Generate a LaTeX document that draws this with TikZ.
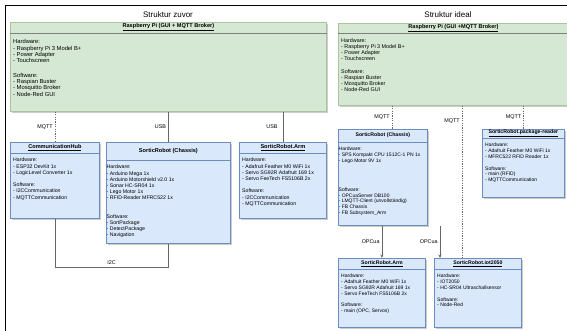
\documentclass[tikz,border=0pt]{standalone}
\usepackage{fontspec}
\setmainfont{Liberation Sans}
\usetikzlibrary{shadows,arrows.meta}

\definecolor{boxgreen}{HTML}{D5E8D4}
\definecolor{linegreen}{HTML}{A9C49F}
\definecolor{boxblue}{HTML}{DAE8FC}
\definecolor{lineblue}{HTML}{6C8EBF}
\definecolor{wiregray}{HTML}{666666}

\tikzset{
	greenbox/.style={draw=linegreen, fill=boxgreen, line width=0.8pt, inner sep=0pt, drop shadow={shadow xshift=1.5pt, shadow yshift=-1.5pt, fill=black, opacity=0.2}},
	greenbox divider/.style={draw=gray, line width=0.8pt},
	bluebox/.style={draw=lineblue, fill=boxblue, line width=0.8pt, inner sep=0pt, drop shadow={shadow xshift=1.5pt, shadow yshift=-1.5pt, fill=black, opacity=0.2}},
	bluebox divider/.style={draw=lineblue, line width=0.8pt},
	headtext/.style={inner sep=0pt, font=\bfseries\fontsize{5.6}{6}\selectfont},
	bodytext/.style={align=left, inner sep=0pt, font=\fontsize{5.2}{6.2}\selectfont},
	wirelabel/.style={inner sep=2pt, font=\fontsize{5.4}{6}\selectfont},
	paneltitle/.style={font=\fontsize{8}{9}\selectfont},
	mqttwire/.style={draw=wiregray, line width=0.6pt, dash pattern=on 1.2pt off 1.2pt},
	usbwire/.style={draw=wiregray, line width=0.8pt},
	opcwire/.style={draw=wiregray, line width=0.8pt, -{Stealth[length=3.5pt, width=3pt]}},
}

% style, name, x, y, width, height, header height, title, body
\newcommand{\classbox}[9]{
	\node[#1, minimum width=#5pt, minimum height=#6pt, anchor=north west] (#2) at (#3,#4) {};
	\draw[#1 divider] ([yshift=-#7pt]#2.north west) -- ([yshift=-#7pt]#2.north east);
	\node[headtext] (#2-title) at ([yshift=-#7pt/2]#2.north) {#8};
	\node[bodytext, anchor=north west] (#2-body) at ([xshift=3pt, yshift=-#7pt-5pt]#2.north west) {#9};
}

\begin{document}
\begin{tikzpicture}[x=1pt, y=-1pt]
	\useasboundingbox (0,0) rectangle (567,331);
	\clip (0,0) rectangle (567,331);

	% frame
	\draw[line width=1pt] (5,331) -- (5,6) -- (567,6);

	% Struktur zuvor
	\node[paneltitle] (zuvor) at (168,15) {Struktur zuvor};
	\begin{scope}[bodytext/.append style={font=\fontsize{5.8}{6.3}\selectfont, yshift=-1.5pt}]
	\classbox{greenbox}{rpiold}{10}{22}{316}{89}{11}{\underline{Raspberry Pi (GUI + MQTT Broker)}}{Hardware:\\- Raspberry Pi 3 Model B+\\- Power Adapter\\- Touchscreen\\[8pt]Software:\\- Raspian Buster\\- Mosquitto Broker\\- Node-Red GUI}
	\end{scope}
	\classbox{bluebox}{commhub}{10}{142}{89}{76}{11}{\underline{CommunicationHub}}{Hardware:\\- ESP32 DevKit 1x\\- LogicLevel Converter 1x\\[6.2pt]Software:\\- I2CCommunication\\- MQTTCommunication}
	\begin{scope}[bodytext/.append style={xshift=-2.5pt}]
	\classbox{bluebox}{chassisold}{106}{142}{124}{101}{18}{SorticRobot (Chassis)}{Hardware:\\- Arduino Mega 1x\\- Arduino Motorshield v2.0 1x\\- Sonar HC-SR04 1x\\- Lego Motor 1x\\- RFID-Reader MFRC522 1x\\[12pt]Software:\\- SortPackage\\- DetectPackage\\- Navigation}
	\end{scope}
	\classbox{bluebox}{armold}{239}{142}{87}{76}{11}{\underline{SorticRobot.Arm}}{Hardware:\\- Adafruit Feather M0 WiFi 1x\\- Servo SG92R Adafruit 169 1x\\- Servo FeeTech FS5106B 2x\\[6.2pt]Software:\\- I2CCommunication\\- MQTTCommunication}

	\draw[mqttwire] (commhub.north |- rpiold.south) -- node[wirelabel, left] {MQTT} (commhub.north);
	\draw[usbwire] (chassisold.north |- rpiold.south) -- node[wirelabel, left] {USB} (chassisold.north);
	\draw[usbwire] (armold.north |- rpiold.south) -- node[wirelabel, left, xshift=-3pt] {USB} (armold.north);
	\draw[usbwire] (commhub.south) -- (commhub.south |- 0,267) -- node[wirelabel, above] {I2C} (chassisold.south |- 0,267) -- (chassisold.south);

	% Struktur ideal
	\node[paneltitle] (ideal) at (448,15) {Struktur ideal};
	\begin{scope}[bodytext/.append style={font=\fontsize{5}{5.8}\selectfont}, headtext/.append style={font=\bfseries\fontsize{5.2}{6}\selectfont}]
	\begin{scope}[bodytext/.append style={font=\fontsize{5.4}{6}\selectfont}, headtext/.append style={font=\bfseries\fontsize{5.6}{6}\selectfont}]
	\classbox{greenbox}{rpinew}{338}{23}{230}{82}{10}{\underline{Raspberry Pi (GUI +MQTT Broker)}}{Hardware:\\- Raspberry Pi 3 Model B+\\- Power Adapter\\- Touchscreen\\[7pt]Software:\\- Raspian Buster\\- Mosquitto Broker\\- Node-Red GUI}
	\end{scope}
	\begin{scope}[bodytext/.append style={xshift=-2.5pt}]
	\classbox{bluebox}{chassisnew}{338}{129}{89}{96}{13}{SorticRobot (Chassis)}{Hardware:\\- SPS Kompakt CPU 1512C-1 PN 1x\\- Lego Motor 9V 1x\\[23pt]Software:\\- OPCuaServer DB100\\- LMQTT-Client (unvollständig)\\- FB Chassis\\- FB Subsystem\_Arm}
	\end{scope}
	\classbox{bluebox}{reader}{482}{129}{82}{68}{9}{\underline{SorticRobot.package-reader}}{Hardware:\\- Adafruit Feather M0 WiFi 1x\\- MFRC522 RFID Reader 1x\\[5.8pt]Software:\\- main (RFID)\\- MQTTCommunication}
	\classbox{bluebox}{armnew}{338}{258}{87}{69}{11}{\underline{SorticRobot.Arm}}{Hardware:\\- Adafruit Feather M0 WiFi 1x\\- Servo SG92R Adafruit 169 1x\\- Servo FeeTech FS5106B 2x\\[5.8pt]Software:\\- main (OPC, Servos)}
	\classbox{bluebox}{iot}{434}{258}{87}{69}{11}{\underline{SorticRobot.iot2050}}{Hardware:\\- IOT2050\\- HC-SR04 Ultraschallsensor\\[5.8pt]Software:\\- Node-Red}
	\end{scope}

	\coordinate (mqttchassis) at ([xshift=9pt]chassisnew.north);
	\coordinate (mqttiot) at ([xshift=-16pt]iot.north);
	\coordinate (opciot) at ([xshift=6pt]iot.north west);
	\draw[mqttwire] (mqttchassis |- rpinew.south) -- node[wirelabel, left] {MQTT} (mqttchassis);
	\draw[mqttwire] (mqttiot |- rpinew.south) -- node[wirelabel, left, pos=0.1] {MQTT} (mqttiot);
	\draw[mqttwire] (reader.north |- rpinew.south) -- node[wirelabel, left] {MQTT} (reader.north);
	\draw[opcwire] (armnew.north |- chassisnew.south) -- node[wirelabel, left] {OPCua} (armnew.north);
	\draw[opcwire] (opciot |- chassisnew.south) -- node[wirelabel, left] {OPCua} (opciot);
\end{tikzpicture}
\end{document}
